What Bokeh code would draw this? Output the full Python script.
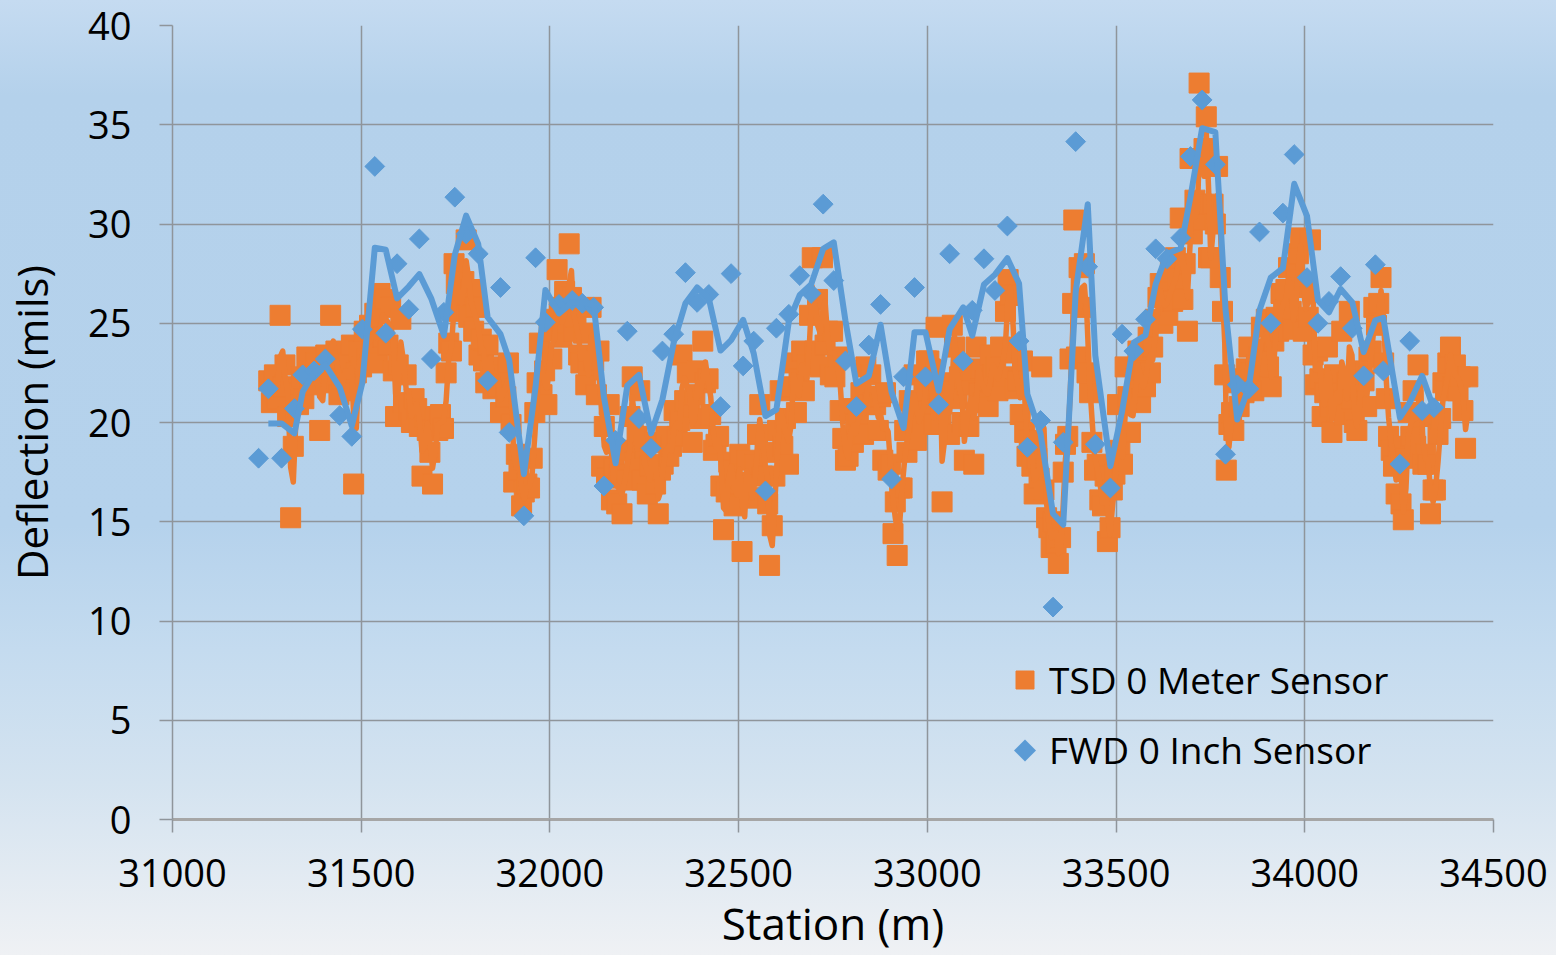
import numpy as np
from bokeh.plotting import figure
from bokeh.models import Range1d, Legend, LegendItem, FixedTicker, PolyAnnotation
from bokeh.embed import file_html
from bokeh.resources import INLINE

# ---------------- data ----------------
fwd_station = [31228, 31254, 31289, 31323, 31345, 31375, 31405, 31443, 31475, 31503,
               31536, 31565, 31595, 31626, 31654, 31686, 31719, 31748, 31778, 31810,
               31835, 31869, 31892, 31931, 31962, 31988, 32024, 32059, 32086, 32116,
               32143, 32174, 32205, 32236, 32268, 32298, 32328, 32359, 32390, 32421,
               32452, 32480, 32512, 32540, 32571, 32600, 32633, 32662, 32692, 32724,
               32752, 32783, 32812, 32845, 32876, 32905, 32937, 32966, 32995, 33030,
               33059, 33095, 33119, 33150, 33179, 33212, 33243, 33265, 33300, 33333,
               33360, 33393, 33425, 33445, 33485, 33516, 33547, 33578, 33605, 33635,
               33671, 33697, 33728, 33763, 33790, 33821, 33852, 33880, 33910, 33942,
               33972, 34006, 34035, 34064, 34095, 34126, 34156, 34187, 34208, 34252,
               34278, 34311, 34342]
fwd_defl = [18.2, 21.7, 18.2, 20.7, 22.4, 22.6, 23.2, 20.35, 19.3, 24.7,
            32.9, 24.5, 28.0, 25.7, 29.25, 23.2, 25.55, 31.35, 29.5, 28.5,
            22.1, 26.8, 19.5, 15.3, 28.3, 25.05, 25.95, 26.15, 26.0, 25.8,
            16.8, 19.1, 24.6, 20.2, 18.7, 23.6, 24.45, 27.55, 26.05, 26.45,
            20.8, 27.5, 22.85, 24.1, 16.55, 24.75, 25.45, 27.4, 26.5, 31.0,
            27.15, 23.1, 20.8, 23.9, 25.95, 17.15, 22.3, 26.8, 22.3, 20.9,
            28.5, 23.1, 25.65, 28.25, 26.65, 29.9, 24.1, 18.75, 20.1, 10.7,
            19.0, 34.15, 27.85, 18.9, 16.7, 24.45, 23.6, 25.2, 28.75, 28.25,
            29.3, 33.4, 36.25, 33.0, 18.4, 21.9, 21.7, 29.6, 25.0, 30.55,
            33.5, 27.3, 25.0, 26.1, 27.35, 24.75, 22.35, 27.95, 22.6, 17.9,
            24.1, 20.6, 20.75]

tsd_station = [
    31255, 31262, 31270, 31278, 31285, 31292, 31298, 31305, 31313, 31320,
    31327, 31334, 31341, 31348, 31356, 31364, 31372, 31380, 31390, 31398,
    31406, 31412, 31419, 31426, 31433, 31441, 31449, 31458, 31466, 31474,
    31480, 31487, 31494, 31501, 31508, 31515, 31522, 31529, 31536, 31543,
    31550, 31557, 31564, 31571, 31578, 31585, 31591, 31598, 31605, 31612,
    31619, 31626, 31633, 31640, 31647, 31654, 31661, 31668, 31675, 31682,
    31689, 31696, 31703, 31710, 31718, 31725, 31732, 31739, 31746, 31752,
    31759, 31766, 31772, 31778, 31785, 31792, 31798, 31805, 31812, 31818,
    31824, 31830, 31836, 31842, 31849, 31856, 31862, 31869, 31876, 31883,
    31890, 31897, 31904, 31911, 31918, 31925, 31932, 31939, 31946, 31953,
    31960, 31966, 31972, 31979, 31986, 31992, 31998, 32005, 32012, 32019,
    32025, 32032, 32039, 32045, 32051, 32057, 32063, 32069, 32076, 32082,
    32089, 32095, 32102, 32109, 32116, 32123, 32130, 32137, 32144, 32150,
    32157, 32163, 32170, 32177, 32184, 32191, 32198, 32205, 32212, 32218,
    32225, 32231, 32238, 32244, 32251, 32258, 32265, 32272, 32280, 32287,
    32293, 32300, 32307, 32315, 32322, 32329, 32337, 32344, 32350, 32357,
    32364, 32370, 32377, 32384, 32391, 32398, 32405, 32412, 32419, 32426,
    32433, 32440, 32447, 32453, 32460, 32467, 32474, 32481, 32488, 32496,
    32503, 32509, 32516, 32522, 32529, 32536, 32543, 32550, 32556, 32563,
    32570, 32577, 32582, 32589, 32596, 32603, 32610, 32617, 32624, 32632,
    32639, 32646, 32653, 32660, 32667, 32674, 32681, 32688, 32695, 32702,
    32709, 32716, 32722, 32729, 32736, 32743, 32749, 32755, 32762, 32769,
    32776, 32783, 32790, 32797, 32804, 32810, 32817, 32824, 32831, 32837,
    32843, 32850, 32857, 32863, 32870, 32876, 32882, 32889, 32896, 32903,
    32909, 32915, 32920, 32927, 32933, 32940, 32946, 32952, 32959, 32965,
    32971, 32978, 32985, 32991, 32998, 33004, 33011, 33017, 33023, 33030,
    33036, 33039, 33045, 33052, 33059, 33066, 33072, 33079, 33085, 33092,
    33098, 33104, 33110, 33117, 33123, 33129, 33136, 33142, 33148, 33154,
    33161, 33167, 33174, 33181, 33187, 33194, 33200, 33207, 33214, 33220,
    33227, 33233, 33240, 33246, 33252, 33258, 33264, 33270, 33277, 33283,
    33290, 33296, 33303, 33309, 33316, 33322, 33328, 33334, 33341, 33347,
    33353, 33360, 33366, 33372, 33378, 33385, 33388, 33395, 33402, 33410,
    33416, 33423, 33430, 33436, 33443, 33450, 33457, 33464, 33471, 33477,
    33484, 33490, 33497, 33504, 33510, 33517, 33524, 33531, 33538, 33545,
    33552, 33558, 33565, 33572, 33578, 33585, 33591, 33597, 33604, 33611,
    33617, 33624, 33630, 33637, 33644, 33650, 33657, 33663, 33670, 33677,
    33683, 33689, 33696, 33702, 33709, 33716, 33720, 33727, 33733, 33739,
    33745, 33751, 33757, 33763, 33769, 33776, 33782, 33788, 33792, 33799,
    33806, 33812, 33819, 33826, 33832, 33839, 33845, 33852, 33858, 33865,
    33872, 33878, 33885, 33891, 33898, 33904, 33911, 33918, 33924, 33931,
    33937, 33944, 33950, 33957, 33964, 33970, 33977, 33983, 33989, 33996,
    34002, 34009, 34015, 34022, 34028, 34034, 34040, 34046, 34053, 34060,
    34066, 34072, 34079, 34085, 34092, 34098, 34105, 34112, 34118, 34125,
    34131, 34138, 34144, 34151, 34157, 34164, 34170, 34176, 34183, 34190,
    34196, 34202, 34209, 34216, 34222, 34229, 34235, 34242, 34248, 34255,
    34261, 34268, 34274, 34281, 34287, 34294, 34300, 34307, 34313, 34320,
    34326, 34333, 34340, 34346, 34353, 34360, 34366, 34373, 34379, 34386,
    34392, 34399, 34406, 34412, 34419, 34426, 34432]
tsd_defl = [
    22.1, 21.0, 22.4, 21.2, 25.4, 21.8, 22.9, 20.3, 15.2, 18.8,
    21.5, 20.9, 22.3, 21.2, 23.3, 22.0, 21.9, 23.0, 19.6, 22.6,
    23.4, 22.0, 25.4, 22.8, 23.6, 21.4, 22.2, 23.0, 21.6, 23.9,
    16.9, 22.5, 23.6, 22.8, 24.6, 23.2, 24.9, 23.8, 25.5, 23.0,
    26.5, 24.3, 26.2, 23.9, 25.8, 22.6, 20.3, 22.9, 25.2, 21.0,
    22.4, 20.6, 20.0, 21.2, 20.7, 19.8, 17.3, 20.3, 19.6, 18.5,
    16.9, 20.2, 19.6, 20.4, 19.7, 22.5, 24.0, 23.6, 28.0, 27.0,
    25.6, 26.4, 27.1, 29.2, 25.3, 26.7, 24.6, 25.8, 23.4, 24.2,
    23.1, 22.0, 23.9, 22.6, 21.7, 22.8, 21.8, 20.5, 22.4, 21.3,
    23.0, 19.9, 17.0, 18.4, 17.6, 15.8, 16.5, 16.9, 16.7, 18.2,
    20.5, 22.0, 24.0, 21.4, 22.6, 20.9, 24.6, 23.2, 25.2, 27.7,
    25.8, 24.3, 26.6, 25.0, 29.0, 26.3, 24.6, 25.3, 23.4, 23.0,
    24.5, 21.9, 22.9, 25.8, 23.1, 21.4, 23.6, 17.8, 19.8, 17.2,
    20.9, 16.1, 17.7, 15.9, 17.4, 15.4, 18.6, 17.1, 20.3, 22.3,
    18.0, 19.3, 21.6, 17.1, 18.7, 16.4, 17.8, 19.0, 16.9, 15.4,
    17.6, 17.9, 19.3, 18.3, 18.8, 20.6, 19.3, 20.1, 23.4, 21.1,
    22.5, 20.8, 19.0, 21.4, 22.6, 20.2, 24.1, 22.0, 22.2, 20.4,
    18.6, 18.9, 19.3, 16.8, 14.6, 16.5, 18.0, 17.6, 15.8, 16.9,
    18.4, 13.5, 17.0, 18.1, 16.2, 16.2, 17.9, 19.4, 20.9, 17.3,
    18.5, 15.9, 12.8, 14.8, 17.3, 19.6, 21.6, 18.8, 20.2, 17.9,
    21.8, 23.0, 20.5, 22.2, 23.6, 21.6, 22.9, 25.4, 28.3, 23.6,
    26.2, 22.8, 28.3, 23.9, 24.6, 22.4, 24.6, 22.3, 23.3, 20.6,
    19.2, 18.1, 18.3, 20.7, 19.0, 19.9, 20.4, 21.5, 19.4, 22.8,
    20.9, 22.4, 21.0, 20.9, 19.6, 21.3, 18.1, 21.5, 17.6, 17.9,
    14.4, 16.0, 13.3, 16.7, 16.7, 19.6, 18.5, 21.1, 20.4, 22.4,
    19.1, 21.0, 20.0, 21.6, 23.1, 23.1, 20.6, 19.9, 24.8, 21.4,
    20.1, 16.0, 22.0, 21.6, 19.4, 24.9, 23.8, 21.2, 22.3, 20.0,
    18.1, 21.9, 19.8, 22.6, 17.9, 23.8, 21.5, 22.7, 21.0, 22.1,
    20.8, 23.4, 22.4, 22.8, 21.6, 23.8, 22.3, 25.6, 27.2, 26.4,
    23.5, 21.7, 22.1, 20.4, 23.1, 19.5, 18.3, 19.1, 17.8, 16.4,
    18.2, 17.2, 22.8, 16.6, 15.2, 14.7, 13.7, 15.0, 13.9, 12.9,
    14.2, 17.5, 18.9, 19.3, 23.2, 26.0, 30.2, 23.3, 27.8, 25.8,
    28.0, 22.5, 21.5, 19.0, 17.6, 17.9, 16.1, 15.8, 17.3, 14.0,
    14.7, 16.6, 17.4, 20.9, 18.6, 17.9, 22.8, 21.3, 19.5, 21.2,
    22.2, 23.6, 21.0, 22.6, 21.8, 24.3, 22.5, 23.8, 25.2, 26.3,
    27.0, 25.0, 26.8, 25.4, 27.6, 26.1, 28.3, 27.2, 30.3, 26.2,
    28.0, 24.6, 33.3, 29.5, 31.2, 30.2, 37.1, 31.0, 33.8, 35.4,
    28.3, 28.3, 31.0, 30.0, 32.9, 27.3, 25.6, 22.4, 17.6, 19.9,
    20.5, 19.6, 22.0, 20.8, 22.2, 21.5, 22.7, 23.8, 22.5, 21.6,
    22.9, 23.3, 24.8, 23.7, 25.2, 22.8, 21.8, 24.1, 25.3, 24.6,
    26.5, 25.6, 26.7, 27.8, 25.6, 24.7, 27.2, 28.5, 29.3, 24.6,
    26.8, 25.3, 29.2, 23.4, 21.9, 23.6, 22.2, 20.3, 21.5, 23.8,
    20.8, 19.5, 22.4, 20.6, 21.5, 24.6, 20.4, 22.0, 25.6, 21.2,
    20.0, 19.6, 21.7, 22.6, 22.1, 20.8, 23.3, 23.6, 25.8, 24.9,
    26.0, 27.3, 23.0, 21.2, 19.3, 18.6, 17.8, 16.4, 18.8, 15.9,
    15.1, 18.2, 20.5, 19.3, 21.6, 18.8, 22.9, 20.3, 17.9, 18.4,
    17.9, 15.4, 16.6, 16.6, 19.4, 20.2, 22.0, 21.6, 23.0, 23.8,
    21.8, 22.9, 21.6, 22.3, 20.6, 18.7, 22.3]

x_ticks = [31000, 31500, 32000, 32500, 33000, 33500, 34000, 34500]
y_ticks = [0, 5, 10, 15, 20, 25, 30, 35, 40]
series_names = ["TSD 0 Meter Sensor", "FWD 0 Inch Sensor"]
x_title = "Station (m)"
y_title = "Deflection (mils)"

# 2-period moving averages (trendlines)
fx = np.array(fwd_station, dtype=float)
fy = np.array(fwd_defl, dtype=float)
tx = np.array(tsd_station, dtype=float)
ty = np.array(tsd_defl, dtype=float)
fwd_ma_x, fwd_ma_y = fx[1:], (fy[:-1] + fy[1:]) / 2
tsd_ma_x, tsd_ma_y = tx[1:], (ty[:-1] + ty[1:]) / 2

ORANGE = "#ED7D31"
BLUE = "#5B9BD5"
GRID = "#8f959b"
FONT = "Open Sans"

p = figure(width=1556, height=955, output_backend="svg", toolbar_location=None,
           x_range=Range1d(31000, 34500), y_range=Range1d(0, 40),
           min_border_left=172, min_border_right=63, min_border_top=25,
           min_border_bottom=136)
p.background_fill_color = None
p.border_fill_color = None
p.outline_line_color = None
p.styles = {"background": "linear-gradient(to bottom, #c5dbf1 0%, #b4d1eb 10%, "
                          "#b5d2ec 55%, #c4dbef 68%, #d4e3f0 82%, #eff1f4 100%)"}

sq = p.scatter(tx, ty, marker="square", size=20, color=ORANGE, line_color=ORANGE)
p.line(tsd_ma_x, tsd_ma_y, line_color=ORANGE, line_width=5.5, line_join="round")
dm = p.scatter(fx, fy, marker="square", angle=np.pi / 4, size=14, color=BLUE,
               line_color=BLUE)
p.line(fwd_ma_x, fwd_ma_y, line_color=BLUE, line_width=6, line_join="round")
# legend-only stand-in for the FWD entry (its swatch is drawn as a diamond below)
dm_key = p.scatter([], [], marker="square", fill_alpha=0, line_alpha=0)

p.xaxis.ticker = FixedTicker(ticks=x_ticks)
p.yaxis.ticker = FixedTicker(ticks=y_ticks)
for ax in (p.xaxis[0], p.yaxis[0]):
    ax.major_label_text_font = FONT
    ax.major_label_text_font_size = "38px"
    ax.major_label_text_color = "black"
    ax.axis_label_text_font = FONT
    ax.axis_label_text_font_style = "normal"
    ax.axis_label_text_color = "black"
    ax.major_tick_line_color = GRID
    ax.major_tick_line_width = 1.5
    ax.major_tick_out = 13
    ax.major_tick_in = 0
    ax.minor_tick_line_color = None
p.xaxis.axis_label = x_title
p.yaxis.axis_label = y_title
p.xaxis.axis_label_text_font_size = "44px"
p.yaxis.axis_label_text_font_size = "42px"
p.xaxis.axis_line_color = "#a6a6a6"
p.xaxis.axis_line_width = 3
p.yaxis.axis_line_color = GRID
p.yaxis.axis_line_width = 1.5
p.xaxis.major_label_standoff = 26
p.xaxis.axis_label_standoff = 3
p.yaxis.major_label_standoff = 28
p.yaxis.axis_label_standoff = 25

p.xgrid.grid_line_color = GRID
p.ygrid.grid_line_color = GRID
p.xgrid.grid_line_width = 1.5
p.ygrid.grid_line_width = 1.5

LEG_X, LEG_Y = 830, 44
legend = Legend(items=[LegendItem(label=series_names[0], renderers=[sq]),
                       LegendItem(label=series_names[1], renderers=[dm_key])],
                location=(LEG_X, LEG_Y), orientation="vertical")
legend.border_line_color = None
legend.background_fill_alpha = 0
legend.padding = 0
legend.margin = 0
legend.spacing = 19
legend.glyph_width = 45
legend.glyph_height = 45
legend.label_standoff = 2
legend.label_text_font = FONT
legend.label_text_font_size = "37px"
legend.label_text_color = "black"
legend.label_height = 45
p.add_layout(legend, "center")

# diamond swatch for the FWD legend entry (screen units, relative to the frame)
cx, cy, h = LEG_X + 22.5, LEG_Y + 25, 11
p.add_layout(PolyAnnotation(xs=[cx, cx + h, cx, cx - h], ys=[cy + h, cy, cy - h, cy],
                            xs_units="screen", ys_units="screen",
                            fill_color=BLUE, fill_alpha=1, line_color=None))

open("out.html", "w").write(file_html(p, INLINE))
